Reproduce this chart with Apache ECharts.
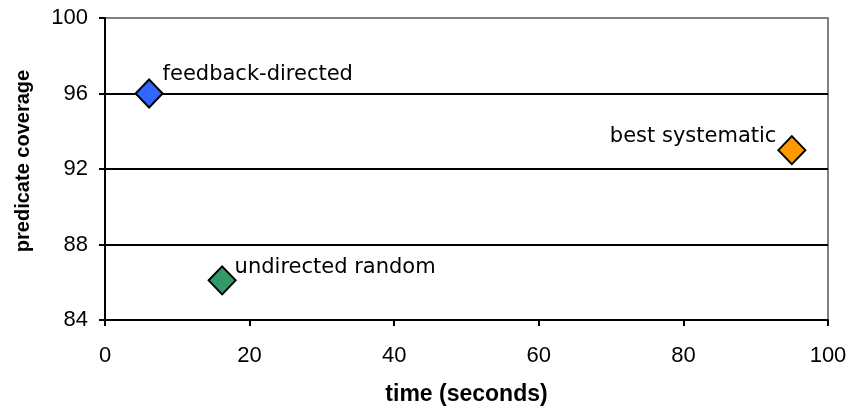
<!DOCTYPE html>
<html>
<head>
<meta charset="utf-8">
<script src="https://cdn.jsdelivr.net/npm/echarts@6/dist/echarts.min.js"></script>
<style>html,body{margin:0;padding:0;background:#fff;}#c{width:852px;height:411px;}</style>
</head>
<body>
<div id="c"></div>
<script>
const names = ['feedback-directed', 'undirected random', 'best systematic'];
const times = [6.1, 16.2, 95.0];
const coverages = [96.0, 86.1, 93.0];
const xTicks = [0, 20, 40, 60, 80, 100];
const yTicks = [84, 88, 92, 96, 100];

const pointColors = ['#3366FF', '#339966', '#FF9900'];
const labelStyles = [
  {position: 'right', distance: 0, offset: [-1, -19]},
  {position: 'right', distance: 0, offset: [-2, -13]},
  {position: 'left', distance: 0, offset: [-1, -14]}
];

const data = names.map((n, i) => ({
  name: n,
  value: [times[i], coverages[i]],
  itemStyle: {color: pointColors[i]},
  label: labelStyles[i]
}));

const chart = echarts.init(document.getElementById('c'), null, {renderer: 'canvas'});
chart.setOption({
  animation: false,
  backgroundColor: '#ffffff',
  grid: {left: 105, right: 24, top: 18, bottom: 87, show: true, borderColor: '#808080', borderWidth: 2, backgroundColor: 'transparent'},
  xAxis: {
    type: 'value', min: xTicks[0], max: xTicks[xTicks.length - 1], interval: 20,
    name: 'time (seconds)', nameLocation: 'middle', nameGap: 63,
    nameTextStyle: {fontFamily: 'Liberation Sans', fontWeight: 'bold', fontSize: 23, color: '#000'},
    axisLine: {show: true, onZero: false, lineStyle: {color: '#000', width: 2}},
    axisTick: {show: true, inside: false, length: 6, lineStyle: {color: '#000', width: 2}},
    axisLabel: {fontFamily: 'Liberation Sans', fontSize: 22, color: '#000', margin: 25},
    splitLine: {show: false}
  },
  yAxis: {
    type: 'value', min: yTicks[0], max: yTicks[yTicks.length - 1], interval: 4,
    name: 'predicate coverage', nameLocation: 'middle', nameGap: 72,
    nameTextStyle: {fontFamily: 'Liberation Sans', fontWeight: 'bold', fontSize: 20, color: '#000', padding: [0, 0, 0, 16]},
    axisLine: {show: true, onZero: false, lineStyle: {color: '#000', width: 2}},
    axisTick: {show: true, inside: false, length: 6, lineStyle: {color: '#000', width: 2}},
    axisLabel: {fontFamily: 'Liberation Sans', fontSize: 22, color: '#000', margin: 17},
    splitLine: {show: true, lineStyle: {color: ['#000', '#000', '#000', '#000', '#808080'], width: 2}}
  },
  series: [{
    type: 'scatter',
    symbol: 'diamond',
    symbolSize: [27, 28],
    itemStyle: {borderColor: '#000', borderWidth: 2, opacity: 1},
    label: {show: true, formatter: '{b}', fontFamily: 'DejaVu Sans', fontSize: 21, color: '#000'},
    data: data
  }]
});
</script>
</body>
</html>
